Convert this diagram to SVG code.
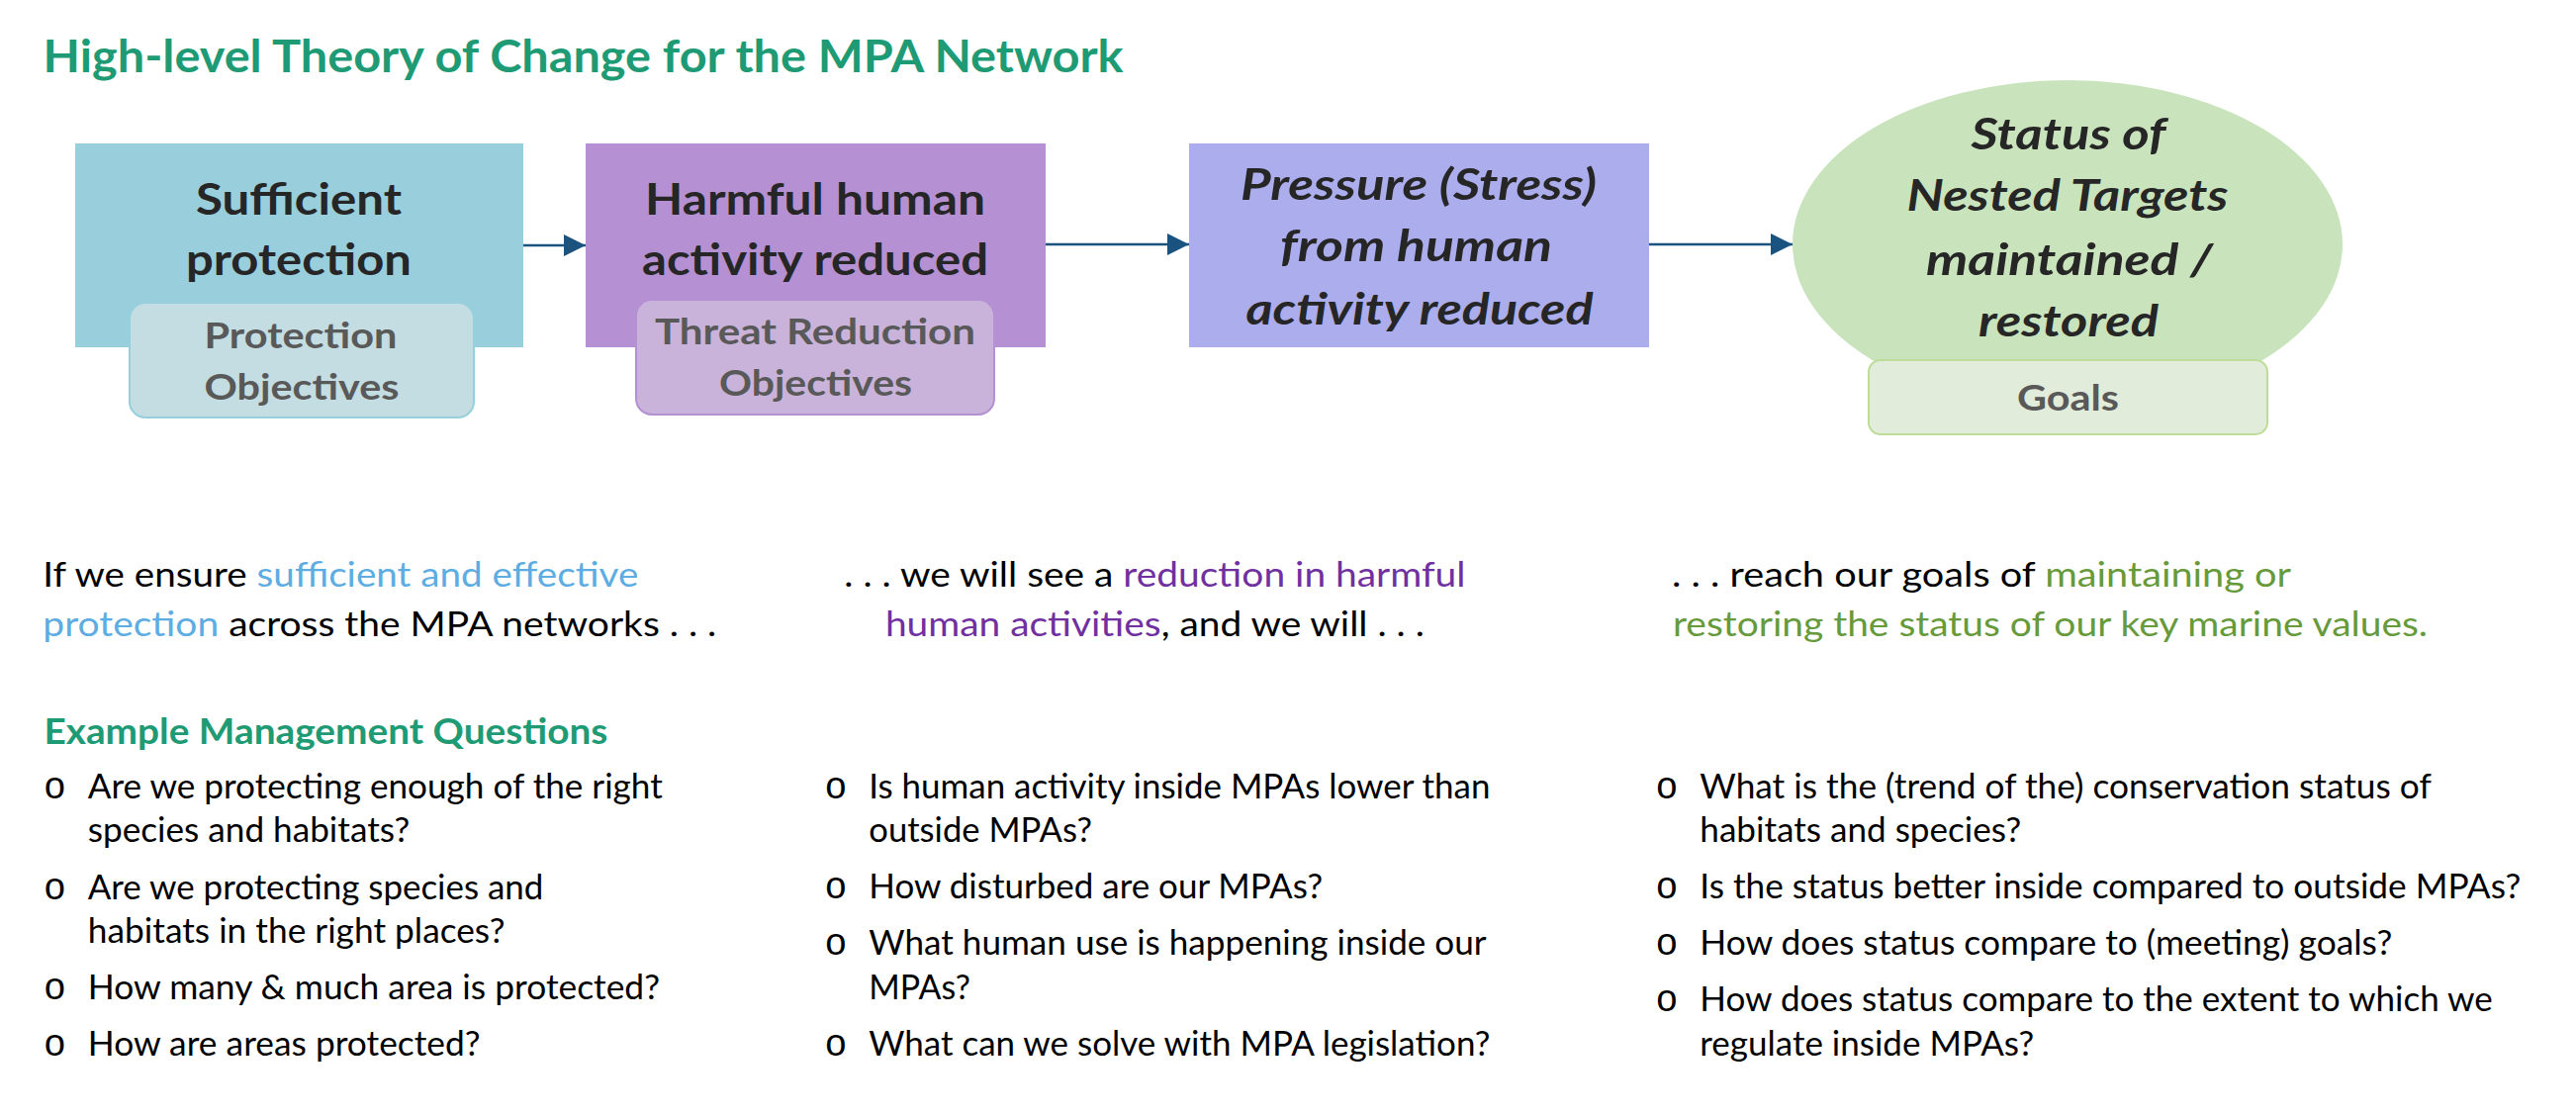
<svg xmlns="http://www.w3.org/2000/svg" width="2604" height="1128" viewBox="0 0 2604 1128">
<style>
text{font-family:Lato,"Open Sans","Liberation Sans",sans-serif}
.title{font-size:46px;font-weight:700;fill:#1e9b74}
.main{font-size:44px;font-weight:700;fill:#262626;text-anchor:middle}
.mainI{font-size:44px;font-weight:700;font-style:italic;fill:#262626;text-anchor:middle}
.sub{font-size:37px;font-weight:700;fill:#595959;text-anchor:middle}
.body{font-size:35px;fill:#000}
.head{font-size:37px;font-weight:700;fill:#1e9b74}
.bul{font-family:"Liberation Mono",monospace;font-size:38px;fill:#000;text-anchor:middle}
.blue{fill:#5dade2}
.purple{fill:#7030a0}
.green{fill:#669a3a}
.conn{stroke:#1a5380;stroke-width:2.5;fill:none}
</style>
<defs>
<marker id="arr" markerUnits="userSpaceOnUse" markerWidth="22" markerHeight="22" refX="22" refY="11" orient="auto">
<path d="M0,0 L22,11 L0,22 z" fill="#1a5380"/>
</marker>
</defs>
<rect width="2604" height="1128" fill="#ffffff"/>
<text class="title" x="43.6" y="72.7" textLength="1092" lengthAdjust="spacingAndGlyphs">High-level Theory of Change for the MPA Network</text>

<g id="connectors">
<line class="conn" x1="529" y1="248" x2="592" y2="248" marker-end="url(#arr)"/>
<line class="conn" x1="1057" y1="247" x2="1202" y2="247" marker-end="url(#arr)"/>
<line class="conn" x1="1667" y1="247" x2="1812" y2="247" marker-end="url(#arr)"/>
</g>

<g id="node-protection">
<rect x="76" y="145" width="453" height="206" fill="#99cfdd"/>
<text class="main" x="302" y="217" textLength="208" lengthAdjust="spacingAndGlyphs">Sufficient</text>
<text class="main" x="302" y="278" textLength="228" lengthAdjust="spacingAndGlyphs">protection</text>
<rect x="131" y="306" width="348" height="116" rx="16" fill="#c4dde2" stroke="#97cfdc" stroke-width="2"/>
<text class="sub" x="304" y="352" textLength="195" lengthAdjust="spacingAndGlyphs">Protection</text>
<text class="sub" x="305" y="404" textLength="197" lengthAdjust="spacingAndGlyphs">Objectives</text>
</g>

<g id="node-activity">
<rect x="592" y="145" width="465" height="206" fill="#b591d4"/>
<text class="main" x="824" y="217" textLength="344" lengthAdjust="spacingAndGlyphs">Harmful human</text>
<text class="main" x="824" y="278" textLength="350" lengthAdjust="spacingAndGlyphs">activity reduced</text>
<rect x="643" y="303" width="362" height="116" rx="16" fill="#c9b3da" stroke="#b591d4" stroke-width="2"/>
<text class="sub" x="824" y="348" textLength="324" lengthAdjust="spacingAndGlyphs">Threat Reduction</text>
<text class="sub" x="824.5" y="400" textLength="195" lengthAdjust="spacingAndGlyphs">Objectives</text>
</g>

<g id="node-pressure">
<rect x="1202" y="145" width="465" height="206" fill="#abadec"/>
<text class="mainI" x="1434" y="202" textLength="360" lengthAdjust="spacingAndGlyphs">Pressure (Stress)</text>
<text class="mainI" x="1431.5" y="264" textLength="275" lengthAdjust="spacingAndGlyphs">from human</text>
<text class="mainI" x="1435" y="328" textLength="351" lengthAdjust="spacingAndGlyphs">activity reduced</text>
</g>

<g id="node-status">
<ellipse cx="2090" cy="247" rx="278" ry="166" fill="#c9e4bc"/>
<text class="mainI" x="2091" y="151" textLength="197" lengthAdjust="spacingAndGlyphs">Status of</text>
<text class="mainI" x="2090" y="213" textLength="325" lengthAdjust="spacingAndGlyphs">Nested Targets</text>
<text class="mainI" x="2092" y="278" textLength="290" lengthAdjust="spacingAndGlyphs">maintained /</text>
<text class="mainI" x="2091" y="340" textLength="182" lengthAdjust="spacingAndGlyphs">restored</text>
<rect x="1889" y="364" width="403" height="75" rx="12" fill="#e1edda" stroke="#bcdc98" stroke-width="2"/>
<text class="sub" x="2090.5" y="415" textLength="103" lengthAdjust="spacingAndGlyphs">Goals</text>
</g>

<g id="col1">
<text class="body" x="43.3" y="593" textLength="602" lengthAdjust="spacingAndGlyphs">If we ensure <tspan class="blue">sufficient and effective</tspan></text>
<text class="body" x="43.3" y="643" textLength="681" lengthAdjust="spacingAndGlyphs"><tspan class="blue">protection</tspan> across the MPA networks  . . .</text>
<text class="head" x="44.4" y="752" textLength="570" lengthAdjust="spacingAndGlyphs">Example Management Questions</text>
<text class="bul" x="55.3" y="806.7">o</text>
<text class="bul" x="55.3" y="909.3">o</text>
<text class="bul" x="55.3" y="1010">o</text>
<text class="bul" x="55.3" y="1066.7">o</text>
<text class="body" x="88.8" y="806.7" textLength="581" lengthAdjust="spacingAndGlyphs">Are we protecting enough of the right</text>
<text class="body" x="88.8" y="851" textLength="325.5" lengthAdjust="spacingAndGlyphs">species and habitats?</text>
<text class="body" x="88.8" y="909.3" textLength="460.6" lengthAdjust="spacingAndGlyphs">Are we protecting species and</text>
<text class="body" x="88.8" y="953.3" textLength="421.7" lengthAdjust="spacingAndGlyphs">habitats in the right places?</text>
<text class="body" x="88.8" y="1010" textLength="578.2" lengthAdjust="spacingAndGlyphs">How many &amp; much area is protected?</text>
<text class="body" x="88.8" y="1066.7" textLength="396.8" lengthAdjust="spacingAndGlyphs">How are areas protected?</text>
</g>

<g id="col2">
<text class="body" x="853.3" y="593" textLength="628.2" lengthAdjust="spacingAndGlyphs">. . . we will see a <tspan class="purple">reduction in harmful</tspan></text>
<text class="body" x="894.9" y="643" textLength="545" lengthAdjust="spacingAndGlyphs"><tspan class="purple">human activities</tspan>, and we will . . .</text>
<text class="bul" x="845" y="806.7">o</text>
<text class="bul" x="845" y="908.3">o</text>
<text class="bul" x="845" y="965">o</text>
<text class="bul" x="845" y="1066.7">o</text>
<text class="body" x="878.3" y="806.7" textLength="628.1" lengthAdjust="spacingAndGlyphs">Is human activity inside MPAs lower than</text>
<text class="body" x="878.3" y="851" textLength="225.8" lengthAdjust="spacingAndGlyphs">outside MPAs?</text>
<text class="body" x="878.3" y="908.3" textLength="458.9" lengthAdjust="spacingAndGlyphs">How disturbed are our MPAs?</text>
<text class="body" x="878.3" y="965" textLength="624.3" lengthAdjust="spacingAndGlyphs">What human use is happening inside our</text>
<text class="body" x="878.3" y="1010" textLength="102.7" lengthAdjust="spacingAndGlyphs">MPAs?</text>
<text class="body" x="878.3" y="1066.7" textLength="628" lengthAdjust="spacingAndGlyphs">What can we solve with MPA legislation?</text>
</g>

<g id="col3">
<text class="body" x="1690" y="593" textLength="626" lengthAdjust="spacingAndGlyphs">. . .  reach our goals of <tspan class="green">maintaining or</tspan></text>
<text class="body green" x="1691" y="643" textLength="763" lengthAdjust="spacingAndGlyphs">restoring the status of our key marine values.</text>
<text class="bul" x="1685" y="806.7">o</text>
<text class="bul" x="1685" y="908.3">o</text>
<text class="bul" x="1685" y="965">o</text>
<text class="bul" x="1685" y="1021.7">o</text>
<text class="body" x="1718.3" y="806.7" textLength="739.5" lengthAdjust="spacingAndGlyphs">What is the (trend of the) conservation status of</text>
<text class="body" x="1718.3" y="851" textLength="325" lengthAdjust="spacingAndGlyphs">habitats and species?</text>
<text class="body" x="1718.3" y="908.3" textLength="830" lengthAdjust="spacingAndGlyphs">Is the status better inside compared to outside MPAs?</text>
<text class="body" x="1718.3" y="965" textLength="700" lengthAdjust="spacingAndGlyphs">How does status compare to (meeting) goals?</text>
<text class="body" x="1718.3" y="1021.7" textLength="801.5" lengthAdjust="spacingAndGlyphs">How does status compare to the extent to which we</text>
<text class="body" x="1718.3" y="1066.7" textLength="338" lengthAdjust="spacingAndGlyphs">regulate inside MPAs?</text>
</g>
</svg>
